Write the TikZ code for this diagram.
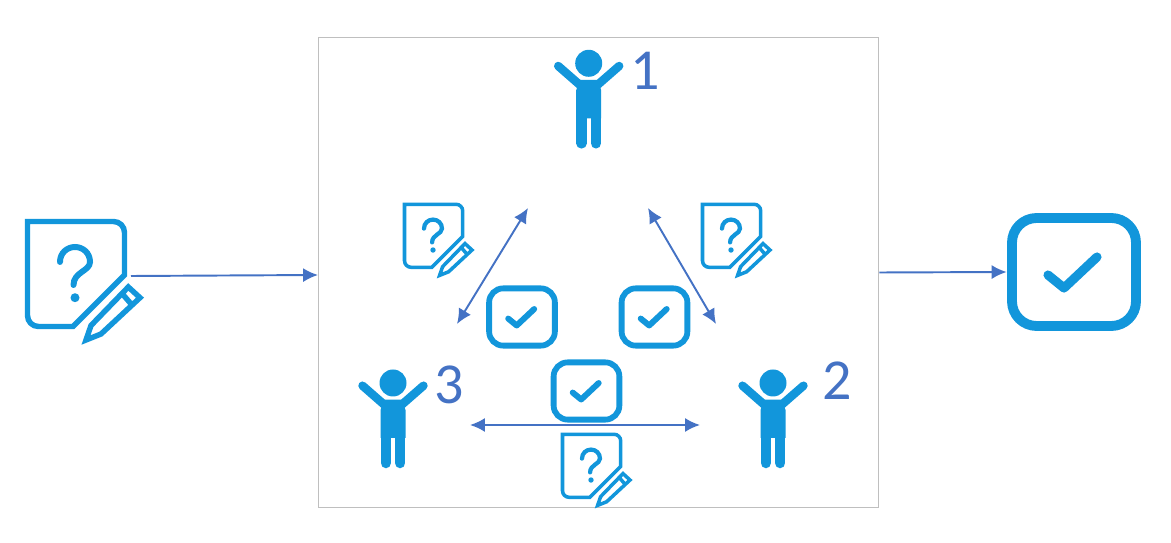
\documentclass[tikz,border=0pt]{standalone}
\usepackage{fontspec}
\setmainfont{Carlito}
\usetikzlibrary{arrows.meta}
\definecolor{icon blue}{HTML}{1296DB}
\definecolor{link blue}{HTML}{4472C4}
\definecolor{frame gray}{HTML}{BFBFBF}
\tikzset{
  link/.style={draw=link blue,line width=1.1pt,-{Latex[length=8.5pt,width=8pt]}},
  twoway/.style={link,{Latex[length=8.5pt,width=8pt]}-{Latex[length=8.5pt,width=8pt]}},
  spot/.style={inner sep=0pt,minimum width=#1},
  number/.style={text=link blue,font=\fontsize{33}{33}\selectfont,inner sep=0pt},
  markwidth/.store in=\markwidth,
  pics/person/.style={code={
    \fill[icon blue] (0,0) circle (13.5);
    \fill[icon blue] (-12.5,27) -- (-9,16.7) -- (9,16.7) -- (12.5,27) -- (12.5,55) -- (-12.5,55) -- cycle;
    \draw[icon blue,line width=4.8pt,line cap=round] (-30.5,2.7) -- (-9,21.5) (30.5,2.7) -- (9,21.5);
    \draw[icon blue,line width=6pt,line cap=round] (-7.2,50) -- (-7.2,80) (7.2,50) -- (7.2,80);
  }},
  pics/askdoc/.style={code={
    \draw[icon blue] (-57.5,-59.5) -- (28.5,-59.5) .. controls (34.6,-59.5) and (39.5,-54.6) .. (39.5,-48.5) -- (39.5,-6) -- (-12,45.5) -- (-46.5,45.5) .. controls (-52.6,45.5) and (-57.5,40.6) .. (-57.5,34.5) -- cycle;
    \draw[icon blue,line width=\markwidth,line cap=round] (-25,-19) .. controls (-25,-28) and (-18,-34) .. (-10,-34) .. controls (-2,-34) and (5,-28) .. (5,-19) .. controls (5,-10) and (-11.5,-9) .. (-11.5,4);
    \fill[icon blue] (-10,16.7) circle (4.5);
    \draw[icon blue,line join=miter] (1,59) -- (6,44.5) -- (43.3,6) -- (55,16.7) -- (16,53) -- cycle (37,12.5) -- (47,24);
  }},
  pics/okbox/.style={code={
    \draw[icon blue,rounded corners=#1] (-62,-54) rectangle (62,54);
    \draw[icon blue,line width=\markwidth,line cap=round,line join=round] (-26,3) -- (-10,16) -- (23,-15);
  }},
  bigdoc/.style={line width=3.1pt,markwidth=3.4pt},
  smalldoc/.style={scale=.6,line width=2pt,markwidth=2.4pt},
  bigbox/.style={line width=5.6pt,markwidth=5.2pt},
  smallbox/.style={scale=.53,line width=3.3pt,markwidth=3.4pt},
}
\begin{document}
\begin{tikzpicture}[x=.02cm,y=-.02cm]
\useasboundingbox (0,0) rectangle (1171,543);
\node[draw=frame gray,line width=.6pt,spot=11.22cm,minimum height=9.4cm] (group) at (598.5,272.5) {};

\node[spot=120*.02cm] (question) at (85,281) {};
\node[spot=134*.02cm] (answer) at (1074,272) {};
\pic[bigdoc] at (question) {askdoc};
\pic[bigbox] at (answer) {okbox=14pt};

\coordinate (questionout) at (131,276);
\coordinate (groupin) at (318,275);
\draw[link] (questionout) -- (groupin);
\draw[link] (group.east) -- (answer.west);

% the three people
\node[spot=1pt] (first) at (588.7,63.3) {};
\node[spot=1pt] (second) at (773,383) {};
\node[spot=1pt] (third) at (393,383) {};
\pic at (first) {person};
\pic at (second) {person};
\pic at (third) {person};
\node[number] (firstnum) at (645.5,71) {1};
\node[number] (secondnum) at (837,381) {2};
\node[number] (thirdnum) at (449,385) {3};

\pic[smalldoc] at (439,240) {askdoc};
\pic[smalldoc] at (737,240) {askdoc};
\pic[smalldoc] at (597,470) {askdoc};
\pic[smallbox] at (522,317) {okbox=8pt};
\pic[smallbox] at (654.5,317) {okbox=8pt};
\pic[smallbox] at (586.5,391) {okbox=8pt};

\coordinate (a1) at (528,208);
\coordinate (a3) at (457,324);
\coordinate (b1) at (648,208);
\coordinate (b2) at (716,324);
\coordinate (c3) at (470,425);
\coordinate (c2) at (700,425);
\draw[twoway] (a1) -- (a3);
\draw[twoway] (b1) -- (b2);
\draw[twoway] (c3) -- (c2);
\end{tikzpicture}
\end{document}
